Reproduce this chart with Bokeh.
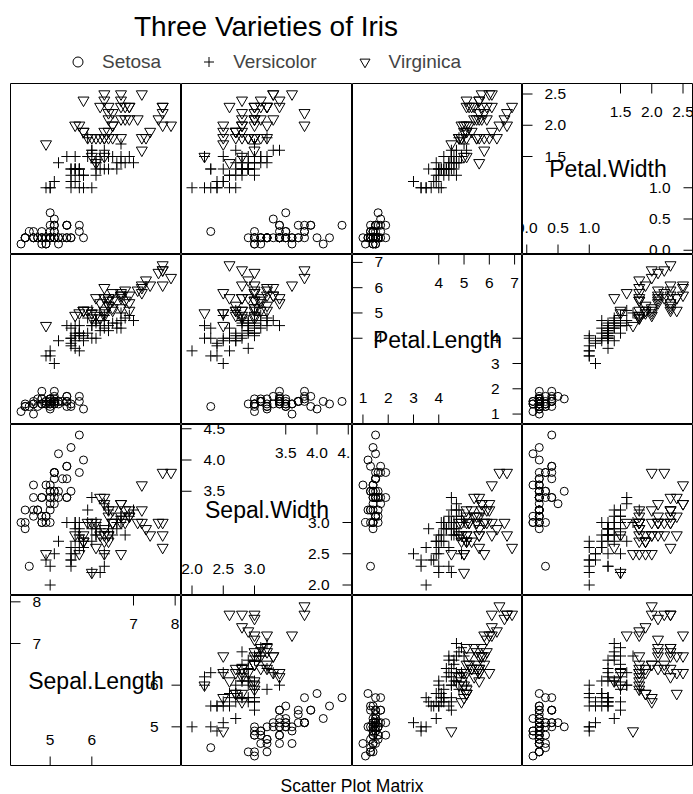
import math
from bokeh.plotting import figure
from bokeh.layouts import gridplot, column
from bokeh.models import Range1d, Label, Legend, LegendItem
from bokeh.embed import file_html
from bokeh.resources import INLINE
from bokeh.core.properties import value

variables = ["Sepal.Length", "Sepal.Width", "Petal.Length", "Petal.Width"]
species = ["Setosa", "Versicolor", "Virginica"]
markers = ["circle", "cross", "inverted_triangle"]
marker_sizes = [8, 11, 11]

setosa_sepal_length = [5.1,4.9,4.7,4.6,5.0,5.4,4.6,5.0,4.4,4.9,5.4,4.8,4.8,4.3,5.8,5.7,5.4,5.1,5.7,5.1,5.4,5.1,4.6,5.1,4.8,5.0,5.0,5.2,5.2,4.7,4.8,5.4,5.2,5.5,4.9,5.0,5.5,4.9,4.4,5.1,5.0,4.5,4.4,5.0,5.1,4.8,5.1,4.6,5.3,5.0]
setosa_sepal_width = [3.5,3.0,3.2,3.1,3.6,3.9,3.4,3.4,2.9,3.1,3.7,3.4,3.0,3.0,4.0,4.4,3.9,3.5,3.8,3.8,3.4,3.7,3.6,3.3,3.4,3.0,3.4,3.5,3.4,3.2,3.1,3.4,4.1,4.2,3.1,3.2,3.5,3.6,3.0,3.4,3.5,2.3,3.2,3.5,3.8,3.0,3.8,3.2,3.7,3.3]
setosa_petal_length = [1.4,1.4,1.3,1.5,1.4,1.7,1.4,1.5,1.4,1.5,1.5,1.6,1.4,1.1,1.2,1.5,1.3,1.4,1.7,1.5,1.7,1.5,1.0,1.7,1.9,1.6,1.6,1.5,1.4,1.6,1.6,1.5,1.5,1.4,1.5,1.2,1.3,1.4,1.3,1.5,1.3,1.3,1.3,1.6,1.9,1.4,1.6,1.4,1.5,1.4]
setosa_petal_width = [0.2,0.2,0.2,0.2,0.2,0.4,0.3,0.2,0.2,0.1,0.2,0.2,0.1,0.1,0.2,0.4,0.4,0.3,0.3,0.3,0.2,0.4,0.2,0.5,0.2,0.2,0.4,0.2,0.2,0.2,0.2,0.4,0.1,0.2,0.2,0.2,0.2,0.1,0.2,0.2,0.3,0.3,0.2,0.6,0.4,0.3,0.2,0.2,0.2,0.2]

versicolor_sepal_length = [7.0,6.4,6.9,5.5,6.5,5.7,6.3,4.9,6.6,5.2,5.0,5.9,6.0,6.1,5.6,6.7,5.6,5.8,6.2,5.6,5.9,6.1,6.3,6.1,6.4,6.6,6.8,6.7,6.0,5.7,5.5,5.5,5.8,6.0,5.4,6.0,6.7,6.3,5.6,5.5,5.5,6.1,5.8,5.0,5.6,5.7,5.7,6.2,5.1,5.7]
versicolor_sepal_width = [3.2,3.2,3.1,2.3,2.8,2.8,3.3,2.4,2.9,2.7,2.0,3.0,2.2,2.9,2.9,3.1,3.0,2.7,2.2,2.5,3.2,2.8,2.5,2.8,2.9,3.0,2.8,3.0,2.9,2.6,2.4,2.4,2.7,2.7,3.0,3.4,3.1,2.3,3.0,2.5,2.6,3.0,2.6,2.3,2.7,3.0,2.9,2.9,2.5,2.8]
versicolor_petal_length = [4.7,4.5,4.9,4.0,4.6,4.5,4.7,3.3,4.6,3.9,3.5,4.2,4.0,4.7,3.6,4.4,4.5,4.1,4.5,3.9,4.8,4.0,4.9,4.7,4.3,4.4,4.8,5.0,4.5,3.5,3.8,3.7,3.9,5.1,4.5,4.5,4.7,4.4,4.1,4.0,4.4,4.6,4.0,3.3,4.2,4.2,4.2,4.3,3.0,4.1]
versicolor_petal_width = [1.4,1.5,1.5,1.3,1.5,1.3,1.6,1.0,1.3,1.4,1.0,1.5,1.0,1.4,1.3,1.4,1.5,1.0,1.5,1.1,1.8,1.3,1.5,1.2,1.3,1.4,1.4,1.7,1.5,1.0,1.1,1.0,1.2,1.6,1.5,1.6,1.5,1.3,1.3,1.3,1.2,1.4,1.2,1.0,1.3,1.2,1.3,1.3,1.1,1.3]

virginica_sepal_length = [6.3,5.8,7.1,6.3,6.5,7.6,4.9,7.3,6.7,7.2,6.5,6.4,6.8,5.7,5.8,6.4,6.5,7.7,7.7,6.0,6.9,5.6,7.7,6.3,6.7,7.2,6.2,6.1,6.4,7.2,7.4,7.9,6.4,6.3,6.1,7.7,6.3,6.4,6.0,6.9,6.7,6.9,5.8,6.8,6.7,6.7,6.3,6.5,6.2,5.9]
virginica_sepal_width = [3.3,2.7,3.0,2.9,3.0,3.0,2.5,2.9,2.5,3.6,3.2,2.7,3.0,2.5,2.8,3.2,3.0,3.8,2.6,2.2,3.2,2.8,2.8,2.7,3.3,3.2,2.8,3.0,2.8,3.0,2.8,3.8,2.8,2.8,2.6,3.0,3.4,3.1,3.0,3.1,3.1,3.1,2.7,3.2,3.3,3.0,2.5,3.0,3.4,3.0]
virginica_petal_length = [6.0,5.1,5.9,5.6,5.8,6.6,4.5,6.3,5.8,6.1,5.1,5.3,5.5,5.0,5.1,5.3,5.5,6.7,6.9,5.0,5.7,4.9,6.7,4.9,5.7,6.0,4.8,4.9,5.6,5.8,6.1,6.4,5.6,5.1,5.6,6.1,5.6,5.5,4.8,5.4,5.6,5.1,5.1,5.9,5.7,5.2,5.0,5.2,5.4,5.1]
virginica_petal_width = [2.5,1.9,2.1,1.8,2.2,2.1,1.7,1.8,1.8,2.5,2.0,1.9,2.1,2.0,2.4,2.3,1.8,2.2,2.3,1.5,2.3,2.0,2.0,1.8,2.1,1.8,1.8,1.8,2.1,1.6,1.9,2.0,2.2,1.5,1.4,2.3,2.4,1.8,1.8,2.1,2.4,2.3,1.9,2.3,2.5,2.3,1.9,2.0,2.3,1.8]

sepal_length_ticks = [5, 6, 7, 8]
sepal_length_tick_labels = ["5", "6", "7", "8"]
sepal_width_ticks = [2.0, 2.5, 3.0, 3.5, 4.0, 4.5]
sepal_width_tick_labels = ["2.0", "2.5", "3.0", "3.5", "4.0", "4.5"]
petal_length_ticks = [1, 2, 3, 4, 5, 6, 7]
petal_length_tick_labels = ["1", "2", "3", "4", "5", "6", "7"]
petal_width_ticks = [0.0, 0.5, 1.0, 1.5, 2.0, 2.5]
petal_width_tick_labels = ["0.0", "0.5", "1.0", "1.5", "2.0", "2.5"]

data = {
    "Setosa": [setosa_sepal_length, setosa_sepal_width, setosa_petal_length, setosa_petal_width],
    "Versicolor": [versicolor_sepal_length, versicolor_sepal_width, versicolor_petal_length, versicolor_petal_width],
    "Virginica": [virginica_sepal_length, virginica_sepal_width, virginica_petal_length, virginica_petal_width],
}
ticks = [sepal_length_ticks, sepal_width_ticks, petal_length_ticks, petal_width_ticks]
tick_labels = [sepal_length_tick_labels, sepal_width_tick_labels, petal_length_tick_labels, petal_width_tick_labels]

FONT = "Liberation Sans"
TOTAL_W = 693
LEFT_PAD = 10
COL_W = [171, 171, 170, 171]
ROW_H = [171, 170, 171, 171]
HEADER_H = 83
FOOTER_H = 28
TICK_LEN = 10

# ranges: data extent padded by 7% on each side
ranges = []
for j in range(4):
    vals = [v for s in species for v in data[s][j]]
    lo, hi = min(vals), max(vals)
    pad = 0.07 * (hi - lo)
    ranges.append((lo - pad, hi + pad))

rows = []
for r in range(4):
    yi = 3 - r
    row = []
    for c in range(4):
        xi = c
        extra = LEFT_PAD if c == 0 else 0
        p = figure(width=COL_W[c] + extra, height=ROW_H[r],
                   x_range=Range1d(*ranges[xi]), y_range=Range1d(*ranges[yi]),
                   x_axis_type=None, y_axis_type=None, min_border=0,
                   min_border_left=extra,
                   toolbar_location=None, output_backend="svg")
        p.outline_line_color = "black"
        p.outline_line_width = 1
        p.background_fill_color = "white"
        p.border_fill_color = "white"
        if xi == yi:
            lo, hi = ranges[xi]
            t = ticks[xi]
            tl = tick_labels[xi]
            n = len(t)
            nlo = math.ceil(n / 2)
            nup = n // 2
            lower, lower_l = t[:nlo], tl[:nlo]
            upper, upper_l = t[nup:], tl[nup:]
            mid = (lo + hi) / 2
            p.text(x=[mid], y=[mid], text=[variables[xi]], text_align="center",
                   text_baseline="middle", text_font=value(FONT),
                   text_font_size="23px", text_color="black")
            # bottom ticks + labels
            p.ray(x=lower, y=[lo] * len(lower), length=TICK_LEN, length_units="screen",
                  angle=math.pi / 2, line_color="black", line_width=1)
            p.text(x=lower, y=[lo] * len(lower), text=lower_l, text_align="center",
                   text_baseline="middle", y_offset=-27, text_font=value(FONT),
                   text_font_size="15.5px", text_color="black")
            # top ticks + labels
            p.ray(x=upper, y=[hi] * len(upper), length=TICK_LEN, length_units="screen",
                  angle=-math.pi / 2, line_color="black", line_width=1)
            p.text(x=upper, y=[hi] * len(upper), text=upper_l, text_align="center",
                   text_baseline="middle", y_offset=28, text_font=value(FONT),
                   text_font_size="15.5px", text_color="black")
            # left ticks + labels
            p.ray(x=[lo] * len(upper), y=upper, length=TICK_LEN, length_units="screen",
                  angle=0, line_color="black", line_width=1)
            p.text(x=[lo] * len(upper), y=upper, text=upper_l, text_align="left",
                   text_baseline="middle", x_offset=22, text_font=value(FONT),
                   text_font_size="15.5px", text_color="black")
            # right ticks + labels
            p.ray(x=[hi] * len(lower), y=lower, length=TICK_LEN, length_units="screen",
                  angle=math.pi, line_color="black", line_width=1)
            p.text(x=[hi] * len(lower), y=lower, text=lower_l, text_align="right",
                   text_baseline="middle", x_offset=-23, text_font=value(FONT),
                   text_font_size="15.5px", text_color="black")
        else:
            for s, m, sz in zip(species, markers, marker_sizes):
                p.scatter(x=data[s][xi], y=data[s][yi], marker=m, size=sz,
                          fill_color=None, line_color="black", line_width=1)
        row.append(p)
    rows.append(row)

grid = gridplot(rows, toolbar_location=None)

# header: title + legend (legend renderers hold one point outside the visible range)
header = figure(width=TOTAL_W, height=HEADER_H, x_range=Range1d(0, 1), y_range=Range1d(0, 1),
                x_axis_type=None, y_axis_type=None, min_border=0,
                toolbar_location=None, output_backend="svg")
header.outline_line_color = None
header.add_layout(Label(x=265.5, y=57.5, x_units="screen", y_units="screen",
                        text="Three Varieties of Iris", text_align="center",
                        text_baseline="middle", text_font=FONT,
                        text_font_size="28px", text_color="black"))
items = []
for s, m in zip(species, markers):
    r_ = header.scatter(x=[-10], y=[-10], marker=m, size=10, fill_color=None,
                        line_color="black", line_width=1)
    items.append(LegendItem(label=s, renderers=[r_]))
legend = Legend(items=items, orientation="horizontal", location=(65, 9),
                glyph_width=25, glyph_height=25, label_standoff=12, spacing=35,
                padding=0, margin=0, border_line_color=None,
                background_fill_alpha=0, label_text_font=FONT,
                label_text_font_size="19px", label_height=25)
header.add_layout(legend, "center")

footer = figure(width=TOTAL_W, height=FOOTER_H, x_range=Range1d(0, 1), y_range=Range1d(0, 1),
                x_axis_type=None, y_axis_type=None, min_border=0,
                toolbar_location=None, output_backend="svg")
footer.outline_line_color = None
footer.add_layout(Label(x=351.5, y=9, x_units="screen", y_units="screen",
                        text="Scatter Plot Matrix", text_align="center",
                        text_baseline="middle", text_font=FONT,
                        text_font_size="17.5px", text_color="black"))

layout = column(header, grid, footer, spacing=0)
open("out.html", "w").write(file_html(layout, INLINE))
